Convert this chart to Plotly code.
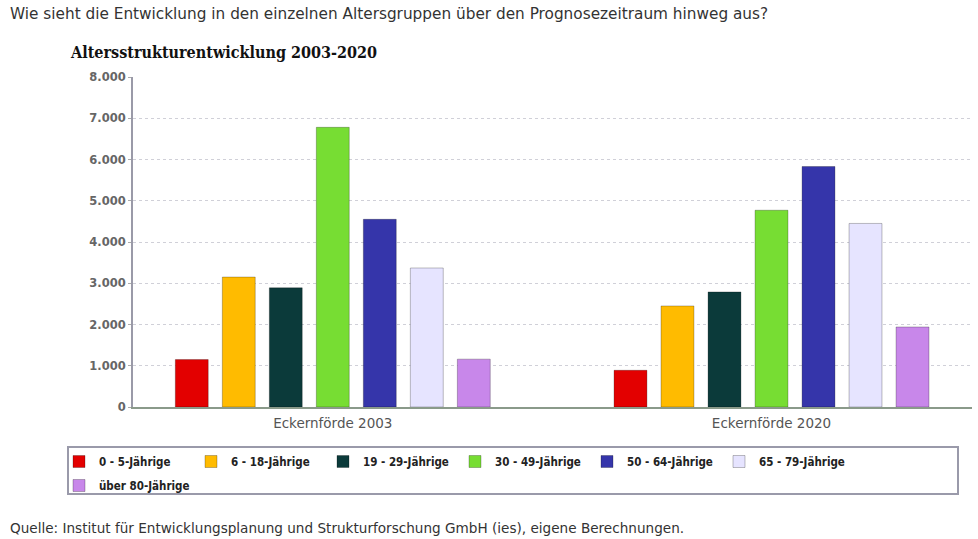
import plotly.graph_objects as go

categories = ["Eckernförde 2003", "Eckernförde 2020"]
groups = ["0 - 5-Jährige", "6 - 18-Jährige", "19 - 29-Jährige", "30 - 49-Jährige",
          "50 - 64-Jährige", "65 - 79-Jährige", "über 80-Jährige"]
values_2003 = [1150, 3150, 2890, 6780, 4550, 3370, 1160]
values_2020 = [890, 2450, 2790, 4770, 5830, 4450, 1940]
colors = ["#e30000", "#ffbb00", "#0b3a3a", "#77dd33", "#3535aa", "#e6e4ff", "#c887ea"]
y_ticks = [0, 1000, 2000, 3000, 4000, 5000, 6000, 7000, 8000]

question = "Wie sieht die Entwicklung in den einzelnen Altersgruppen über den Prognosezeitraum hinweg aus?"
chart_title = "Altersstrukturentwicklung 2003-2020"
source = "Quelle: Institut für Entwicklungsplanung und Strukturforschung GmbH (ies), eigene Berechnungen."

W, H = 978, 539
L, R, T, B = 133, 6, 77, 132
pw, ph = W - L - R, H - T - B

def px(x):
    return (x - L) / pw

def py(y):
    return (H - B - y) / ph

legend_font = dict(family="DejaVu Sans Condensed", size=11.5, color="#222222", weight="bold")

fig = go.Figure()
for i, g in enumerate(groups):
    fig.add_trace(go.Bar(
        name=g, x=categories, y=[values_2003[i], values_2020[i]],
        marker=dict(color=colors[i], line=dict(color="rgba(0,0,0,0.25)", width=1)),
        legend="legend" if i < 6 else "legend2",
    ))

fig.update_layout(
    width=W, height=H, autosize=False,
    margin=dict(l=L, r=R, t=T, b=B),
    paper_bgcolor="white", plot_bgcolor="white",
    barmode="group", bargap=0.25, bargroupgap=0.3,
    separators=",.",
    showlegend=True,
    legend=dict(
        orientation="h", x=px(59), y=py(447), xanchor="left", yanchor="top",
        font=legend_font, entrywidth=87, entrywidthmode="pixels",
        bgcolor="rgba(0,0,0,0)", borderwidth=0, itemwidth=30,
    ),
    legend2=dict(
        orientation="h", x=px(59), y=py(471), xanchor="left", yanchor="top",
        font=legend_font, entrywidth=87, entrywidthmode="pixels",
        bgcolor="rgba(0,0,0,0)", borderwidth=0, itemwidth=30,
    ),
    xaxis=dict(
        range=[-0.4554, 1.457], showgrid=False,
        showline=True, linecolor="#8a9a8a", linewidth=2,
        ticks="", ticklabelstandoff=3,
        tickfont=dict(family="DejaVu Sans", size=13.5, color="#555555"),
    ),
    yaxis=dict(
        range=[0, 8000], tickvals=y_ticks, tickformat=",d",
        showgrid=True, gridcolor="#d0d0d8", griddash="dot", gridwidth=1,
        showline=True, linecolor="#9a9aa8", linewidth=2,
        ticks="outside", ticklen=3, tickcolor="#aaaaaa",
        zeroline=False,
        tickfont=dict(family="DejaVu Sans", size=11.5, color="#666666", weight="bold"),
    ),
    shapes=[dict(type="rect", xref="paper", yref="paper",
                 x0=px(68), x1=px(958), y0=py(494), y1=py(447),
                 line=dict(color="#9a9aaa", width=2), fillcolor="rgba(0,0,0,0)")],
    annotations=[
        dict(text=question, xref="paper", yref="paper", x=px(8), y=py(14),
             xanchor="left", yanchor="middle", showarrow=False,
             font=dict(family="DejaVu Sans", size=15.3, color="#333333")),
        dict(text=chart_title, xref="paper", yref="paper", x=px(68), y=py(52),
             xanchor="left", yanchor="middle", showarrow=False,
             font=dict(family="DejaVu Serif Condensed", size=16, color="#111111", weight="bold")),
        dict(text=source, xref="paper", yref="paper", x=px(8), y=py(528),
             xanchor="left", yanchor="middle", showarrow=False,
             font=dict(family="DejaVu Sans", size=13.6, color="#333333")),
    ],
)

fig.write_html("out.html", config={"displayModeBar": False},
               post_script="document.body.style.margin='0';document.body.style.padding='0';")
